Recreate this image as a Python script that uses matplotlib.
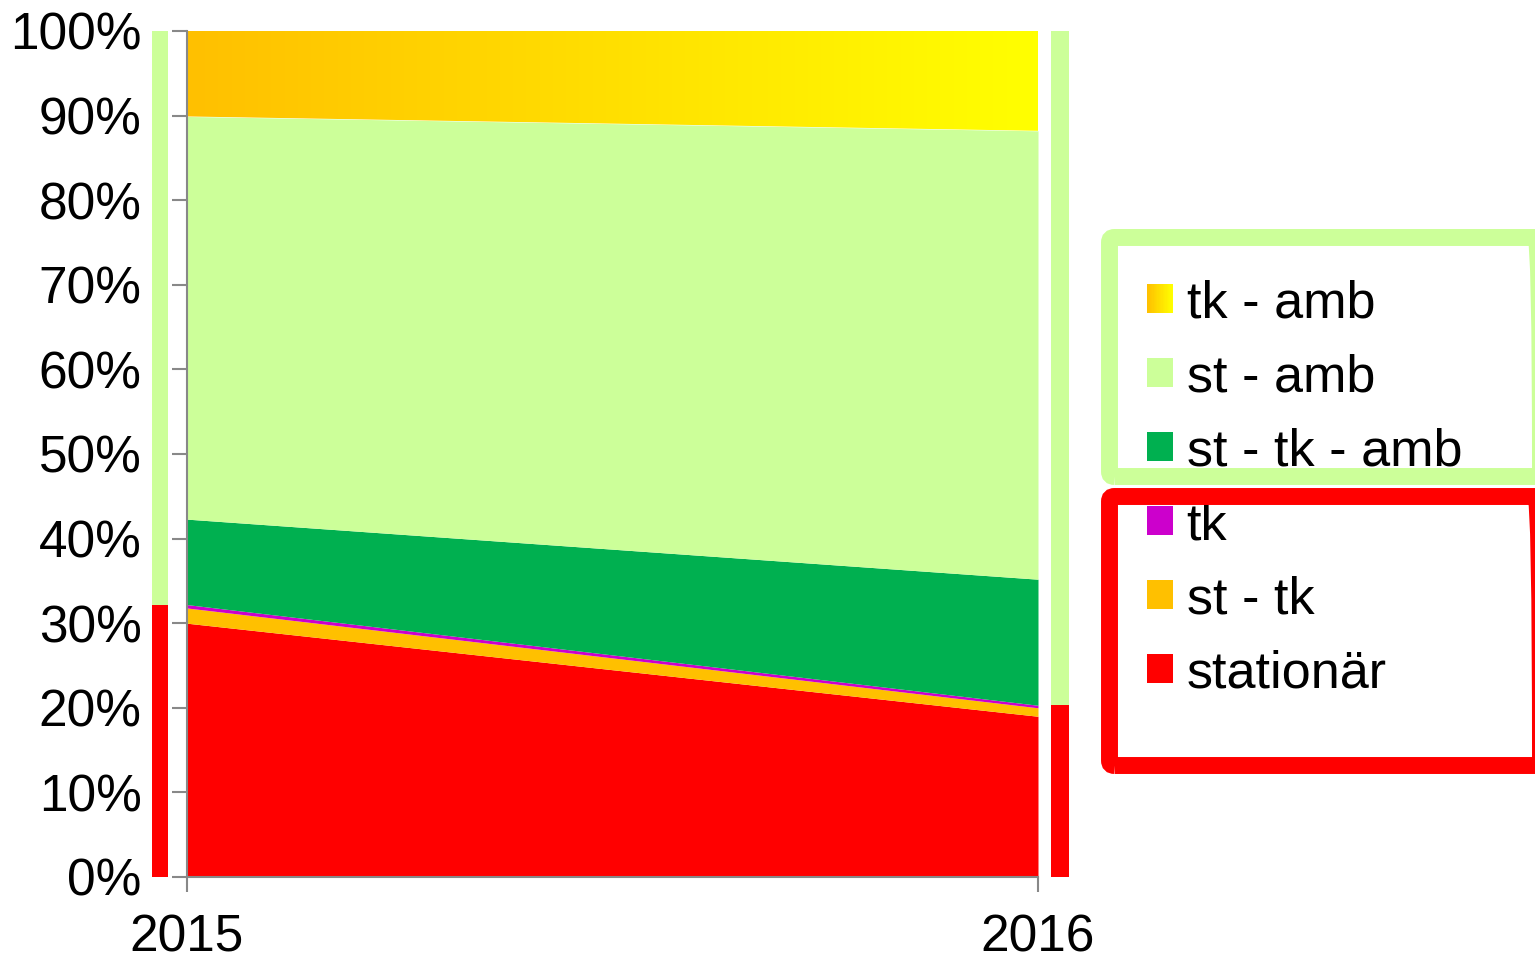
import matplotlib.pyplot as plt
import matplotlib.colors as mcolors
import numpy as np
from matplotlib.patches import Rectangle, FancyBboxPatch
from matplotlib.legend_handler import HandlerBase

plt.rcParams['font.family'] = ['Liberation Sans', 'DejaVu Sans']

years = [2015, 2016]
stationaer = [30.0, 19.0]
st_tk = [1.8, 1.0]
tk = [0.4, 0.3]
st_tk_amb = [10.1, 14.9]
st_amb = [47.6, 53.0]
tk_amb = [10.1, 11.8]

labels = ['stationär', 'st - tk', 'tk', 'st - tk - amb', 'st - amb', 'tk - amb']
colors = ['#FF0000', '#FFC000', '#CC00CC', '#00B050', '#CCFF99', None]
grad_start = '#FFC000'
grad_end = '#FFFF00'
ytick_labels = ['0%', '10%', '20%', '30%', '40%', '50%', '60%', '70%', '80%', '90%', '100%']

series = [stationaer, st_tk, tk, st_tk_amb, st_amb, tk_amb]

W, H = 1535, 959
fig = plt.figure(figsize=(W / 100, H / 100), dpi=100)
ax = fig.add_axes([187 / W, (959 - 877) / H, (1038 - 187) / W, (877 - 31) / H])

x = np.array(years, dtype=float)
bottom = np.zeros(2)
for vals, col, lab in zip(series, colors, labels):
    top = bottom + np.array(vals)
    if col is not None:
        ax.fill_between(x, bottom, top, color=col, lw=0, label=lab)
    else:
        poly = ax.fill_between(x, bottom, top, facecolor='none', lw=0)
        cmap = mcolors.LinearSegmentedColormap.from_list('g', [grad_start, grad_end])
        grad = np.linspace(0, 1, 256).reshape(1, -1)
        im = ax.imshow(grad, cmap=cmap, extent=[x[0], x[1], 0, 100], aspect='auto',
                       origin='lower', interpolation='bilinear')
        im.set_clip_path(poly.get_paths()[0], transform=ax.transData)
    bottom = top

# side bars: inpatient share vs ambulant share
red_share = [stationaer[i] + st_tk[i] + tk[i] for i in range(2)]
side_x = [years[0] - 0.032, years[1] + 0.026]
side_w = [0.019, 0.021]
for i in range(2):
    ax.bar(side_x[i], red_share[i], width=side_w[i], color='#FF0000', clip_on=False, lw=0)
    ax.bar(side_x[i], 100 - red_share[i], bottom=red_share[i], width=side_w[i],
           color='#CCFF99', clip_on=False, lw=0)

ax.set_xlim(years[0], years[1])
ax.set_ylim(0, 100)
ax.set_xticks(years)
ax.set_xticklabels([str(y) for y in years])
ax.set_yticks(range(0, 101, 10))
ax.set_yticklabels(ytick_labels)
for s in ['top', 'right']:
    ax.spines[s].set_visible(False)
for s in ['left', 'bottom']:
    ax.spines[s].set_color('#888888')
    ax.spines[s].set_linewidth(1.5)
ax.tick_params(axis='both', direction='out', length=11, width=1.5, color='#888888',
               labelsize=37)
ax.tick_params(axis='y', pad=21.5)
ax.tick_params(axis='x', pad=15)


class GradientHandler(HandlerBase):
    def create_artists(self, legend, orig_handle, xdescent, ydescent, width, height,
                       fontsize, trans):
        c0 = np.array(mcolors.to_rgb(grad_start))
        c1 = np.array(mcolors.to_rgb(grad_end))
        n = 20
        arts = []
        for i in range(n):
            c = c0 + (c1 - c0) * i / (n - 1)
            arts.append(Rectangle((-xdescent + i * width / n, -ydescent), width / n + 0.3,
                                  height, facecolor=c, edgecolor='none', transform=trans))
        return arts


grad_handle = Rectangle((0, 0), 1, 1)
handles = [grad_handle]
for col in reversed(colors[:-1]):
    handles.append(Rectangle((0, 0), 1, 1, facecolor=col, edgecolor='none'))
leg_labels = list(reversed(labels))

# legend boxes (fill behind, border on top), positions in inches
boxes = [(1109.5, 237.5, 1540.5, 476.5, '#CCFF99'), (1109.5, 496.5, 1540.5, 765.5, '#FF0000')]
for x0, y0, x1, y1, ec in boxes:
    for fc, ecol, z in [('white', 'none', 1), ('none', ec, 3)]:
        p = FancyBboxPatch((x0 / 100, (H - y1) / 100), (x1 - x0) / 100, (y1 - y0) / 100,
                           boxstyle='round,pad=0,rounding_size=0.05',
                           transform=fig.dpi_scale_trans,
                           facecolor=fc, edgecolor=ecol, lw=12.2, zorder=z)
        fig.patches.append(p)

leg = fig.legend(handles, leg_labels, loc='upper left', bbox_to_anchor=(1147 / W, 1 - 279 / H),
                 frameon=False, fontsize=37.5, borderpad=0, borderaxespad=0,
                 handlelength=0.5, handleheight=0.5, handletextpad=0.26, labelspacing=0.48,
                 handler_map={grad_handle: GradientHandler()})
leg.set_zorder(2)

plt.savefig('out.png', dpi=100)
